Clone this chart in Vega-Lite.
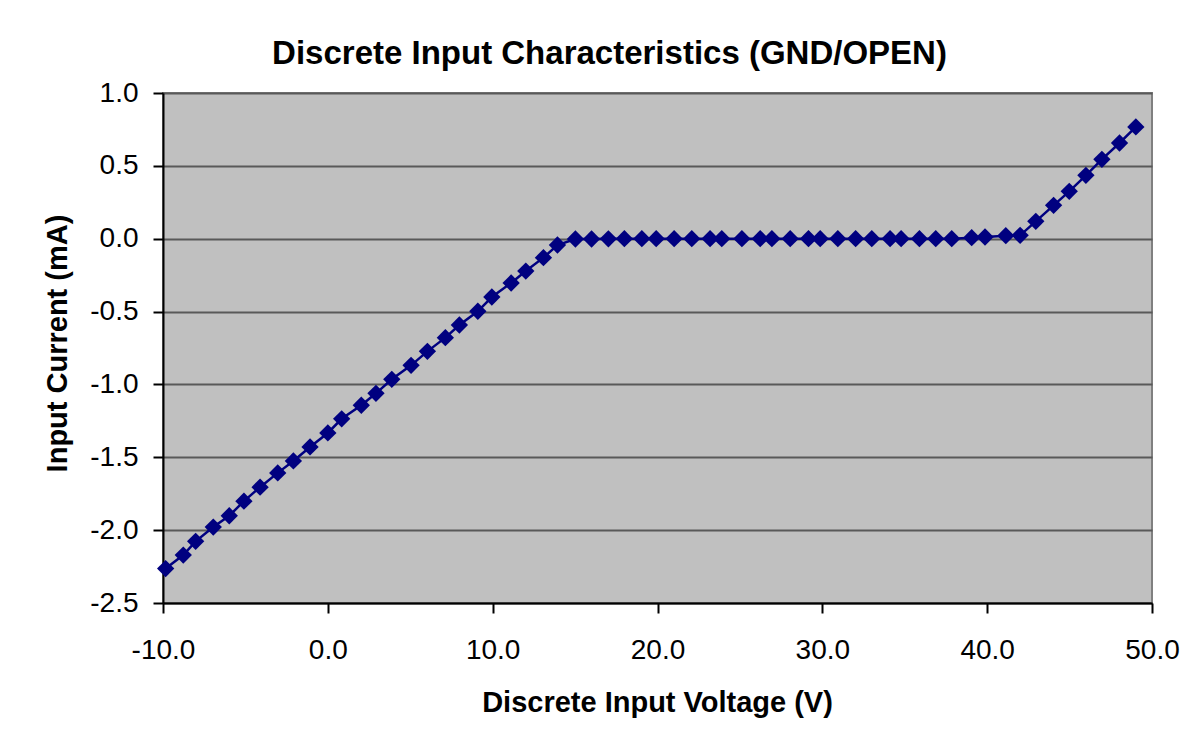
{
  "$schema": "https://vega.github.io/schema/vega-lite/v6.json",
  "width": 989,
  "height": 510,
  "autosize": {"type": "none"},
  "padding": {"left": 163, "top": 93, "right": 46, "bottom": 143},
  "background": "white",
  "title": {
    "text": "Discrete Input Characteristics (GND/OPEN)",
    "font": "Liberation Sans",
    "fontSize": 33,
    "fontWeight": "bold",
    "color": "black",
    "anchor": "middle",
    "frame": "group",
    "baseline": "alphabetic",
    "offset": 30,
    "dx": -48,
    "dy": 48
  },
  "config": {
    "view": {"fill": "#C0C0C0", "stroke": "#808080", "strokeWidth": 2},
    "font": "Liberation Sans"
  },
  "data": {
    "values": [
      {"v": -9.84, "i": -2.264},
      {"v": -8.77, "i": -2.171},
      {"v": -8.02, "i": -2.077},
      {"v": -6.95, "i": -1.979},
      {"v": -5.98, "i": -1.901},
      {"v": -5.09, "i": -1.801},
      {"v": -4.11, "i": -1.705},
      {"v": -3.04, "i": -1.607},
      {"v": -2.09, "i": -1.525},
      {"v": -1.08, "i": -1.429},
      {"v": 0.0, "i": -1.333},
      {"v": 0.84, "i": -1.236},
      {"v": 2.03, "i": -1.143},
      {"v": 2.92, "i": -1.061},
      {"v": 3.88, "i": -0.965},
      {"v": 5.05, "i": -0.869},
      {"v": 6.04, "i": -0.773},
      {"v": 7.13, "i": -0.679},
      {"v": 7.98, "i": -0.592},
      {"v": 9.1, "i": -0.498},
      {"v": 9.95, "i": -0.4},
      {"v": 11.12, "i": -0.304},
      {"v": 12.01, "i": -0.222},
      {"v": 13.08, "i": -0.13},
      {"v": 13.93, "i": -0.043},
      {"v": 15.02, "i": -0.002},
      {"v": 16.0, "i": -0.002},
      {"v": 17.02, "i": -0.001},
      {"v": 17.99, "i": 0.0},
      {"v": 19.05, "i": 0.0},
      {"v": 19.92, "i": 0.0},
      {"v": 21.01, "i": 0.0},
      {"v": 22.08, "i": 0.0},
      {"v": 23.19, "i": 0.0},
      {"v": 23.9, "i": 0.0},
      {"v": 25.12, "i": 0.0},
      {"v": 26.23, "i": 0.0},
      {"v": 26.94, "i": 0.0},
      {"v": 28.05, "i": 0.0},
      {"v": 29.16, "i": 0.0},
      {"v": 29.87, "i": 0.0},
      {"v": 30.94, "i": 0.0},
      {"v": 32.02, "i": 0.0},
      {"v": 33.0, "i": 0.0},
      {"v": 34.11, "i": 0.0},
      {"v": 34.78, "i": 0.0},
      {"v": 35.89, "i": 0.0},
      {"v": 36.88, "i": 0.0},
      {"v": 37.85, "i": 0.0},
      {"v": 39.06, "i": 0.007},
      {"v": 39.87, "i": 0.012},
      {"v": 41.13, "i": 0.021},
      {"v": 42.0, "i": 0.023},
      {"v": 42.95, "i": 0.119},
      {"v": 44.03, "i": 0.229},
      {"v": 44.98, "i": 0.325},
      {"v": 45.99, "i": 0.435},
      {"v": 46.96, "i": 0.545},
      {"v": 48.03, "i": 0.657},
      {"v": 49.02, "i": 0.767}
    ]
  },
  "encoding": {
    "x": {
      "field": "v",
      "type": "quantitative",
      "scale": {"domain": [-10, 50], "nice": false, "zero": false},
      "axis": {
        "title": "Discrete Input Voltage (V)",
        "values": [-10, 0, 10, 20, 30, 40, 50],
        "format": ".1f",
        "labelExpr": "replace(datum.label, '\u2212', '-')",
        "grid": false,
        "domainColor": "black",
        "domainWidth": 2,
        "tickColor": "black",
        "tickWidth": 2,
        "tickSize": 10,
        "labelFontSize": 28,
        "labelColor": "black",
        "labelPadding": 23,
        "labelFont": "Liberation Sans",
        "labelFlush": false,
        "labelOverlap": false,
        "titleFont": "Liberation Sans",
        "titleFontSize": 29,
        "titleFontWeight": "bold",
        "titleColor": "black",
        "titleBaseline": "middle",
        "titleX": 494,
        "titleY": 99
      }
    },
    "y": {
      "field": "i",
      "type": "quantitative",
      "scale": {"domain": [-2.5, 1.0], "nice": false, "zero": false},
      "axis": {
        "title": "Input Current (mA)",
        "values": [-2.5, -2.0, -1.5, -1.0, -0.5, 0.0, 0.5, 1.0],
        "format": ".1f",
        "labelExpr": "replace(datum.label, '\u2212', '-')",
        "grid": true,
        "gridColor": "#595959",
        "gridWidth": 2,
        "gridOpacity": 1,
        "domainColor": "black",
        "domainWidth": 2,
        "tickColor": "black",
        "tickWidth": 2,
        "tickSize": 10,
        "labelFontSize": 28,
        "labelColor": "black",
        "labelPadding": 15,
        "labelFont": "Liberation Sans",
        "labelFlush": false,
        "labelOverlap": false,
        "titleFont": "Liberation Sans",
        "titleFontSize": 29,
        "titleFontWeight": "bold",
        "titleColor": "black",
        "titleBaseline": "middle",
        "titleAngle": -90,
        "titleX": -106,
        "titleY": 250
      }
    }
  },
  "layer": [
    {"mark": {"type": "line", "color": "#000080", "strokeWidth": 2.5}},
    {"mark": {"type": "point", "shape": "diamond", "filled": true, "color": "#000080", "opacity": 1, "size": 300}}
  ]
}
